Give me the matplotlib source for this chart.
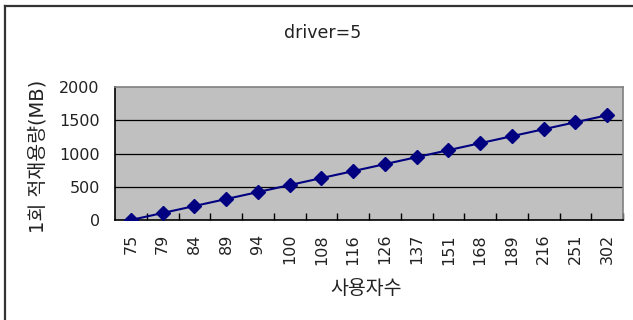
import matplotlib
matplotlib.use("Agg")
import matplotlib.pyplot as plt
from matplotlib.lines import Line2D

plt.rcParams['font.family'] = ['DejaVu Sans', 'Noto Sans CJK KR']

users = ["75", "79", "84", "89", "94", "100", "108", "116", "126", "137",
         "151", "168", "189", "216", "251", "302"]
storage_mb = [0, 105, 210, 315, 420, 525, 630, 735, 840, 945,
              1050, 1155, 1260, 1365, 1470, 1575]
y_ticks = [0, 500, 1000, 1500, 2000]

W, H = 633, 320
fig = plt.figure(figsize=(W / 100, H / 100), dpi=100)
fig.patch.set_facecolor("white")

# chart-area frame (top and left edges)
fig.add_artist(Line2D([4.5 / W, 4.5 / W], [0, 1 - 5.5 / H], transform=fig.transFigure,
                      color="#333333", lw=1.6))
fig.add_artist(Line2D([4.5 / W, 1], [1 - 5.5 / H, 1 - 5.5 / H], transform=fig.transFigure,
                      color="#333333", lw=1.6))

left, right, top, bottom = 115, 623, 87, 220
ax = fig.add_axes([left / W, 1 - bottom / H, (right - left) / W, (bottom - top) / H])
ax.set_facecolor("#C0C0C0")

x = list(range(len(users)))
ax.plot(x, storage_mb, color="#000080", lw=1.5, marker="D", markersize=7.5,
        markerfacecolor="#000080", markeredgecolor="#000080", zorder=3)

ax.set_xlim(-0.5, len(users) - 0.5)
ax.set_ylim(0, 2000)
ax.set_yticks(y_ticks)
ax.set_yticklabels([str(v) for v in y_ticks], fontsize=11.5, color="#222222")
ax.tick_params(axis="y", length=0, pad=11)
for v in y_ticks[1:-1]:
    ax.axhline(v, color="black", lw=0.9, zorder=1)

# category labels centred, tick marks on category boundaries
ax.set_xticks(x)
ax.set_xticklabels(users, rotation=90, fontsize=11.5, color="#222222")
ax.tick_params(axis="x", length=0, pad=10)
ax.set_xticks([i - 0.5 for i in range(1, len(users) + 1)], minor=True)
ax.tick_params(axis="x", which="minor", direction="in", length=5, width=1, color="black")

for s in ("top", "right"):
    ax.spines[s].set_color("#808080")
    ax.spines[s].set_linewidth(1.2)
for s in ("left", "bottom"):
    ax.spines[s].set_color("black")
    ax.spines[s].set_linewidth(1.2)

fig.text(366 / W, 1 - 288 / H, "사용자수", fontsize=14, color="#222222",
         ha="center", va="center")
fig.text(38 / W, 1 - 156 / H, "1회 적재용량(MB)", fontsize=14, color="#222222",
         ha="center", va="center", rotation=90)

fig.text(323 / W, 1 - 33 / H, "driver=5", fontsize=12.5, color="#222222",
         ha="center", va="center")

fig.savefig("out.png", dpi=100)
